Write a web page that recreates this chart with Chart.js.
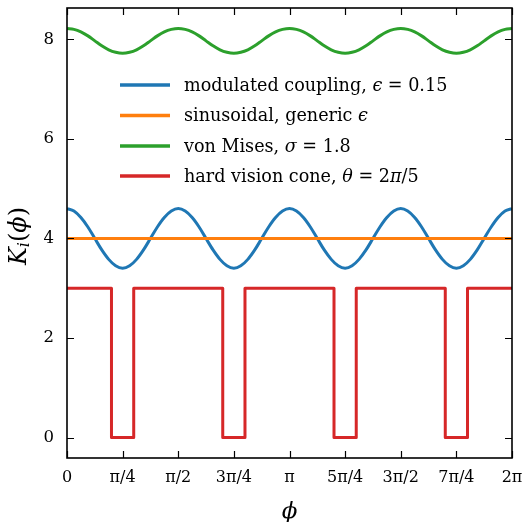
<!DOCTYPE html>
<html>
<head>
<meta charset="utf-8">
<script src="https://cdn.jsdelivr.net/npm/chart.js@4.4.1/dist/chart.umd.min.js"></script>
<style>
  html, body { margin: 0; padding: 0; background: #fff; }
  #wrap { width: 522px; height: 522px; }
</style>
</head>
<body>
<div id="wrap"><canvas id="kchart" width="522" height="522"></canvas></div>
<script>
// sample points in phi (steps of pi/32)
const phi = [0, 0.098, 0.196, 0.295, 0.393, 0.491, 0.589, 0.687, 0.785, 0.884, 0.982,
  1.080, 1.178, 1.276, 1.374, 1.473, 1.571, 1.669, 1.767, 1.865, 1.963, 2.062, 2.160,
  2.258, 2.356, 2.454, 2.553, 2.651, 2.749, 2.847, 2.945, 3.043, 3.142, 3.240, 3.338,
  3.436, 3.534, 3.632, 3.731, 3.829, 3.927, 4.025, 4.123, 4.222, 4.320, 4.418, 4.516,
  4.614, 4.712, 4.811, 4.909, 5.007, 5.105, 5.203, 5.301, 5.400, 5.498, 5.596, 5.694,
  5.792, 5.890, 5.989, 6.087, 6.185, 6.283];

// modulated coupling, eps = 0.15
const kModulated = [
  4.60, 4.55, 4.42, 4.23, 4.00, 3.77, 3.58, 3.45, 3.40, 3.45, 3.58, 3.77, 4.00, 4.23, 4.42, 4.55,
  4.60, 4.55, 4.42, 4.23, 4.00, 3.77, 3.58, 3.45, 3.40, 3.45, 3.58, 3.77, 4.00, 4.23, 4.42, 4.55,
  4.60, 4.55, 4.42, 4.23, 4.00, 3.77, 3.58, 3.45, 3.40, 3.45, 3.58, 3.77, 4.00, 4.23, 4.42, 4.55,
  4.60, 4.55, 4.42, 4.23, 4.00, 3.77, 3.58, 3.45, 3.40, 3.45, 3.58, 3.77, 4.00, 4.23, 4.42, 4.55,
  4.60];

// sinusoidal, generic eps (flat at 4)
const kSinusoidal = [
  4.00, 4.00, 4.00, 4.00, 4.00, 4.00, 4.00, 4.00, 4.00, 4.00, 4.00, 4.00, 4.00, 4.00, 4.00, 4.00,
  4.00, 4.00, 4.00, 4.00, 4.00, 4.00, 4.00, 4.00, 4.00, 4.00, 4.00, 4.00, 4.00, 4.00, 4.00, 4.00,
  4.00, 4.00, 4.00, 4.00, 4.00, 4.00, 4.00, 4.00, 4.00, 4.00, 4.00, 4.00, 4.00, 4.00, 4.00, 4.00,
  4.00, 4.00, 4.00, 4.00, 4.00, 4.00, 4.00, 4.00, 4.00, 4.00, 4.00, 4.00, 4.00, 4.00, 4.00, 4.00,
  4.00];

// von Mises, sigma = 1.8
const kVonMises = [
  8.22, 8.20, 8.15, 8.07, 7.97, 7.87, 7.79, 7.74, 7.72, 7.74, 7.79, 7.87, 7.97, 8.07, 8.15, 8.20,
  8.22, 8.20, 8.15, 8.07, 7.97, 7.87, 7.79, 7.74, 7.72, 7.74, 7.79, 7.87, 7.97, 8.07, 8.15, 8.20,
  8.22, 8.20, 8.15, 8.07, 7.97, 7.87, 7.79, 7.74, 7.72, 7.74, 7.79, 7.87, 7.97, 8.07, 8.15, 8.20,
  8.22, 8.20, 8.15, 8.07, 7.97, 7.87, 7.79, 7.74, 7.72, 7.74, 7.79, 7.87, 7.97, 8.07, 8.15, 8.20,
  8.22];

// hard vision cone, theta = 2pi/5 (step corners)
const phiCone = [0, 0.628, 0.628, 0.942, 0.942, 2.199, 2.199, 2.513, 2.513,
  3.770, 3.770, 4.084, 4.084, 5.341, 5.341, 5.655, 5.655, 6.283];
const kCone = [3, 3, 0, 0, 3, 3, 0, 0, 3, 3, 0, 0, 3, 3, 0, 0, 3, 3];

const xTickValues = [0, 0.785398, 1.570796, 2.356194, 3.141593, 3.926991, 4.712389, 5.497787, 6.283185];
const xTickLabels = ['0', 'π/4', 'π/2', '3π/4', 'π', '5π/4', '3π/2', '7π/4', '2π'];
const yTickValues = [0, 2, 4, 6, 8];

const seriesNames = [
  'modulated coupling, ϵ = 0.15',
  'sinusoidal, generic ϵ',
  'von Mises, σ = 1.8',
  'hard vision cone, θ = 2π/5'
];
// legend text split into upright / italic parts
const legendParts = [
  [['modulated coupling, ', 0], ['ϵ', 1], [' = 0.15', 0]],
  [['sinusoidal, generic ', 0], ['ϵ', 1]],
  [['von Mises, ', 0], ['σ', 1], [' = 1.8', 0]],
  [['hard vision cone, ', 0], ['θ', 1], [' = 2', 0], ['π', 1], ['/5', 0]]
];
const colors = ['#1f77b4', '#ff7f0e', '#2ca02c', '#d62728'];

const pts = (xs, ys) => xs.map((x, i) => ({ x, y: ys[i] }));
const SERIF = '"DejaVu Serif", serif';

// frame, inward ticks, legend and axis titles
const decor = {
  id: 'decor',
  afterDatasetsDraw(chart) {
    const { ctx, chartArea: a, scales: { x, y } } = chart;
    ctx.save();
    ctx.strokeStyle = '#000';
    ctx.lineWidth = 1.2;
    ctx.beginPath();
    xTickValues.forEach(v => {
      const px = Math.round(x.getPixelForValue(v)) + 0.5;
      ctx.moveTo(px, a.bottom); ctx.lineTo(px, a.bottom - 7);
      ctx.moveTo(px, a.top); ctx.lineTo(px, a.top + 7);
    });
    yTickValues.forEach(v => {
      const py = Math.round(y.getPixelForValue(v)) + 0.5;
      ctx.moveTo(a.left, py); ctx.lineTo(a.left + 7, py);
      ctx.moveTo(a.right, py); ctx.lineTo(a.right - 7, py);
    });
    ctx.stroke();
    ctx.lineWidth = 1.6;
    ctx.strokeRect(a.left, a.top, a.right - a.left, a.bottom - a.top);

    // legend
    const rows = [85, 115.5, 146, 176];
    ctx.textBaseline = 'middle';
    ctx.textAlign = 'left';
    legendParts.forEach((parts, i) => {
      ctx.strokeStyle = colors[i];
      ctx.lineWidth = 3.5;
      ctx.beginPath();
      ctx.moveTo(120, rows[i]); ctx.lineTo(170, rows[i]);
      ctx.stroke();
      let tx = 184;
      ctx.fillStyle = '#000';
      parts.forEach(([t, it]) => {
        ctx.font = (it ? 'italic ' : '') + '17.6px ' + SERIF;
        ctx.fillText(t, tx, rows[i] + 1);
        tx += ctx.measureText(t).width;
      });
    });

    // x title
    ctx.font = 'italic 23px ' + SERIF;
    ctx.textAlign = 'center';
    ctx.fillText('ϕ', (a.left + a.right) / 2, 512);

    // y title: K_i(phi)
    ctx.translate(20, 236);
    ctx.rotate(-Math.PI / 2);
    ctx.textAlign = 'left';
    const bits = [['K', 'italic 24px', 0], ['i', 'italic 16px', 5], ['(', '24px', 0], ['ϕ', 'italic 24px', 0], [')', '24px', 0]];
    let total = 0;
    bits.forEach(([t, f]) => { ctx.font = f + ' ' + SERIF; total += ctx.measureText(t).width; });
    let bx = -total / 2;
    bits.forEach(([t, f, dy]) => {
      ctx.font = f + ' ' + SERIF;
      ctx.fillText(t, bx, dy);
      bx += ctx.measureText(t).width;
    });
    ctx.restore();
  }
};

new Chart(document.getElementById('kchart'), {
  type: 'line',
  data: {
    datasets: [
      { label: seriesNames[0], data: pts(phi, kModulated), borderColor: colors[0], order: 4 },
      { label: seriesNames[1], data: pts(phi, kSinusoidal), borderColor: colors[1], order: 3 },
      { label: seriesNames[2], data: pts(phi, kVonMises), borderColor: colors[2], order: 2 },
      { label: seriesNames[3], data: pts(phiCone, kCone), borderColor: colors[3], order: 1,
        cubicInterpolationMode: 'default', tension: 0, borderJoinStyle: 'round' }
    ].map(d => Object.assign({ borderWidth: 3, pointRadius: 0, cubicInterpolationMode: 'monotone', fill: false }, d))
  },
  options: {
    responsive: false,
    animation: false,
    devicePixelRatio: 1,
    layout: { padding: { left: 0, top: 8, right: 10, bottom: 0 } },
    plugins: { legend: { display: false }, tooltip: { enabled: false } },
    scales: {
      x: {
        type: 'linear', min: 0, max: 6.283185,
        afterBuildTicks: s => { s.ticks = xTickValues.map(v => ({ value: v })); },
        afterFit: s => { s.height = 64; s.paddingLeft = 0; s.paddingRight = 0; },
        grid: { display: false, drawTicks: false },
        border: { display: false },
        ticks: {
          autoSkip: false, maxRotation: 0, padding: 10, color: '#000',
          font: { family: SERIF, size: 16 },
          callback: (v, i) => xTickLabels[i]
        }
      },
      y: {
        type: 'linear', min: -0.41, max: 8.63,
        afterBuildTicks: s => { s.ticks = yTickValues.map(v => ({ value: v })); },
        afterFit: s => { s.width = 67; s.paddingTop = 0; s.paddingBottom = 0; },
        grid: { display: false, drawTicks: false },
        border: { display: false },
        ticks: {
          padding: 13, color: '#000',
          font: { family: SERIF, size: 16.5 },
          callback: v => String(v)
        }
      }
    }
  },
  plugins: [decor]
});
</script>
</body>
</html>
